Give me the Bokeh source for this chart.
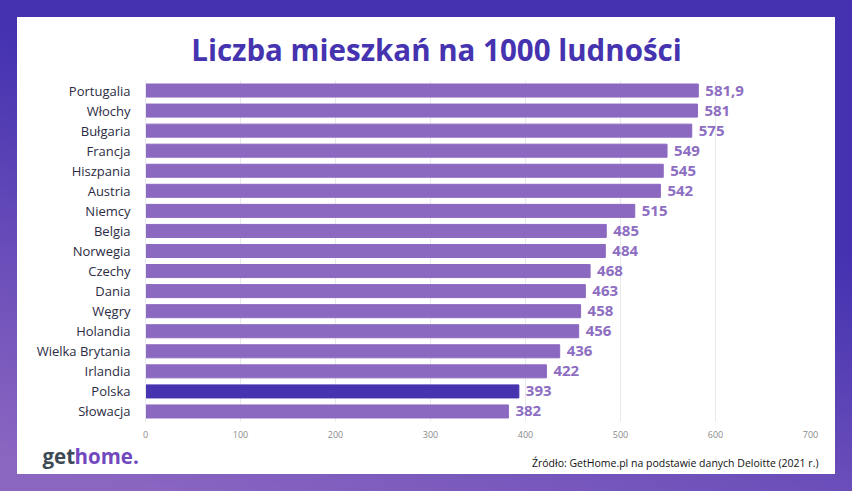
from bokeh.plotting import figure
from bokeh.models import FactorRange, ColumnDataSource, FixedTicker, Range1d
from bokeh.layouts import column
from bokeh.core.properties import value
from bokeh.embed import file_html
from bokeh.resources import INLINE

countries = ["Portugalia", "Włochy", "Bułgaria", "Francja", "Hiszpania", "Austria",
             "Niemcy", "Belgia", "Norwegia", "Czechy", "Dania", "Węgry", "Holandia",
             "Wielka Brytania", "Irlandia", "Polska", "Słowacja"]
values = [581.9, 581, 575, 549, 545, 542, 515, 485, 484, 468, 463, 458, 456, 436, 422, 393, 382]
x_ticks = [0, 100, 200, 300, 400, 500, 600, 700]
highlight = "Polska"
title_text = "Liczba mieszkań na 1000 ludności"
source_text = "Źródło: GetHome.pl na podstawie danych Deloitte (2021 r.)"

BAR = "#8c69c1"
HL = "#4533b0"
LBL = "#8d6ec2"
FONT = "Open Sans"
W = 818


def fmt(v):
    return str(int(v)) if float(v).is_integer() else ("%.1f" % v).replace(".", ",")


def deco_fig(h):
    f = figure(width=W, height=h, x_range=Range1d(0, W), y_range=Range1d(h, 0),
               x_axis_type=None, y_axis_type=None, output_backend="svg", title=None,
               toolbar_location=None, min_border=0, frame_align=False)
    f.outline_line_color = None
    f.background_fill_color = "white"
    f.border_fill_color = "white"
    f.grid.visible = False
    return f


# --- title strip ---
t = deco_fig(53)
t.text(x=[419], y=[31.5], text=[title_text], text_align="center", text_baseline="middle",
       text_font=value(FONT), text_font_style="bold", text_font_size="29.5px",
       text_color="#4533b0")

# --- chart ---
src = ColumnDataSource(dict(
    country=countries,
    val=values,
    txt=[fmt(v) for v in values],
    color=[HL if c == highlight else BAR for c in countries],
))

p = figure(width=W, height=370, y_range=FactorRange(factors=countries[::-1], range_padding=0),
           x_range=(0, 700), output_backend="svg", toolbar_location=None, frame_align=False,
           title=None, min_border_left=128, min_border_right=25, min_border_top=10,
           min_border_bottom=19)
p.outline_line_color = None
p.background_fill_color = "white"
p.border_fill_color = "white"

p.hbar(y="country", right="val", left=0, height=0.65, color="color", source=src)
p.text(x="val", y="country", text="txt", source=src, x_offset=7, text_baseline="middle",
       text_align="left", text_color=LBL, text_font=value(FONT),
       text_font_size="15px", text_font_style="bold")

p.ygrid.grid_line_color = None
p.xgrid.grid_line_color = "#e8e8ee"
p.xgrid.ticker = FixedTicker(ticks=x_ticks)

p.xaxis.ticker = FixedTicker(ticks=x_ticks)
p.xaxis.axis_line_color = None
p.xaxis.major_tick_line_color = None
p.xaxis.minor_tick_line_color = None
p.xaxis.major_label_standoff = 3
p.xaxis.major_label_text_font = FONT
p.xaxis.major_label_text_font_size = "9px"
p.xaxis.major_label_text_color = "#8a8a8a"

p.yaxis.axis_line_color = "#e8e8ee"
p.yaxis.major_tick_line_color = None
p.yaxis.minor_tick_line_color = None
p.yaxis.major_label_standoff = 9
p.yaxis.major_label_text_font = FONT
p.yaxis.major_label_text_font_size = "13px"
p.yaxis.major_label_text_color = "#2d2c44"

# --- footer strip ---
f = deco_fig(34)
f.text(x=[25], y=[15], text=["get"], text_align="left", text_baseline="middle",
       text_font=value(FONT), text_font_style="bold", text_font_size="20.5px",
       text_color="#3d4954")
f.text(x=[57], y=[15], text=["home."], text_align="left", text_baseline="middle",
       text_font=value(FONT), text_font_style="bold", text_font_size="20.5px",
       text_color="#7148be")
f.text(x=[801], y=[22], text=[source_text], text_align="right", text_baseline="middle",
       text_font=value(FONT), text_font_size="10.5px", text_color="#111111")

layout = column(t, p, f, spacing=0,
                styles={"background": "linear-gradient(#ffffff, #ffffff) content-box, "
                                      "linear-gradient(195deg, #4331b0 35%, #8b66c1 95%) border-box",
                        "padding": "17px"})

open("out.html", "w").write(file_html(layout, INLINE))
